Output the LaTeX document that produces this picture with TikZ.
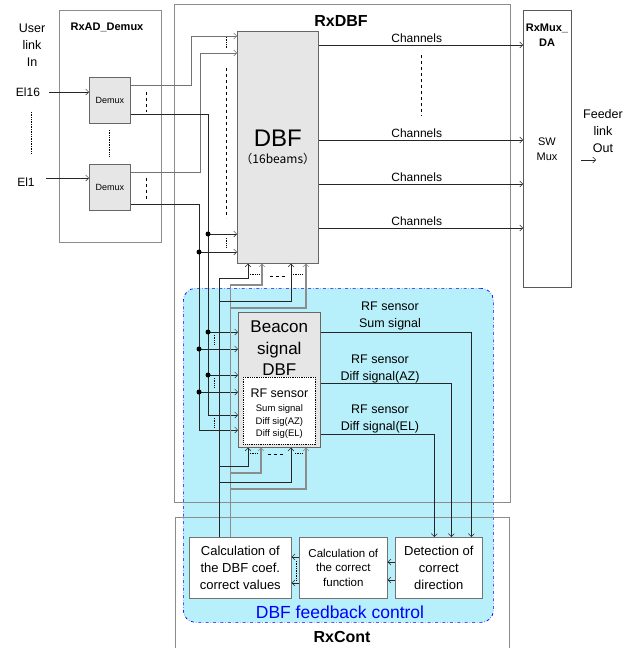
\documentclass[tikz,border=0pt]{standalone}
\usepackage{fontspec}
\setmainfont{Liberation Sans}
\newfontfamily\cjk{Noto Sans CJK JP}
\usetikzlibrary{arrows.meta,positioning}
\definecolor{fbcyan}{RGB}{183,240,250}
\definecolor{blkgray}{RGB}{230,230,230}
\newcommand{\fsz}[2]{\fontsize{#1}{#2}\selectfont}

\begin{document}
\begin{tikzpicture}[x=1pt,y=-1pt,
  frame/.style={draw=black!45,line width=0.9pt,anchor=north west,inner sep=0pt},
  blk/.style={draw=black!60,line width=0.6pt,fill=blkgray,anchor=north west,inner sep=0pt,align=center},
  calc/.style={draw=black!55,line width=0.6pt,fill=white,anchor=north west,inner sep=0pt,align=center,font=\fsz{13}{17}},
  ttl/.style={font=\bfseries\fsz{11}{15},align=center,inner sep=0pt},
  lab/.style={font=\fsz{12.5}{17},align=center,inner sep=0pt},
  wire/.style={draw=black!85,line width=0.7pt},
  arr/.style={wire,-{Straight Barb[length=3pt,width=6pt,line width=0.5pt]}},
  jdot/.style={circle,fill=black,inner sep=0pt,minimum size=5pt},
  dotl/.style={densely dotted,line width=0.7pt},
  dashl/.style={dashed,line width=0.7pt}]
\useasboundingbox (0,0) rectangle (640,648);

% feedback control area
\node[draw=blue,fill=fbcyan,dash dot,line width=0.7pt,rounded corners=12pt,anchor=north west,
  minimum width=310pt,minimum height=334pt,inner sep=0pt] (fb) at (183,288) {};
\node[font=\fsz{17.5}{20},text=blue,inner sep=0pt] (fbtxt) at (340,612) {DBF feedback control};

% units
\node[frame,minimum width=102pt,minimum height=232pt] (rxad) at (59,10) {};
\node[frame,minimum width=336pt,minimum height=498pt] (rxdbf) at (174,4) {};
\node[frame,draw=black!65,minimum width=48pt,minimum height=277pt] (mux) at (523,10) {};
\node[frame,minimum width=334pt,minimum height=131pt] (rxcont) at (175,517) {};
\node[ttl] (rxadtxt) at (107,27) {RxAD\_Demux};
\node[ttl,font=\bfseries\fsz{16}{18}] (rxdbftxt) at (341,21) {RxDBF};
\node[ttl] (muxtxt) at (547,35) {RxMux\_\\DA};
\node[ttl,font=\bfseries\fsz{16}{18}] (rxconttxt) at (342,637) {RxCont};
\node[lab,font=\fsz{11}{15}] (swmux) at (547,149) {SW\\Mux};

% inputs
\node[lab] (usr) at (32,45) {User\\link\\In};
\node[lab,font=\fsz{12}{14}] (el16) at (28,92) {El16};
\node[lab,font=\fsz{12}{14}] (el1) at (26,182) {El1};
\node[blk,font=\fsz{9}{11},minimum width=41pt,minimum height=46pt] (dmxA) at (89,77) {Demux};
\node[blk,font=\fsz{9}{11},minimum width=41pt,minimum height=46pt] (dmxB) at (89,164) {Demux};

% beam forming
\node[blk,minimum width=81pt,minimum height=232pt] (dbf) at (237,31) {{\fsz{24}{26}DBF}\\[5pt]{\cjk\fsz{12}{13}（16beams）}};
\node[blk,minimum width=82pt,minimum height=135pt] (bcn) at (238,312) {};
\node[font=\fsz{17}{21.5},align=center,anchor=north,inner sep=0pt] (bcntxt) at ([yshift=-9pt]bcn.north) {Beacon\\signal\\DBF};
\node[draw=black,densely dotted,line width=0.8pt,fill=white,anchor=north west,minimum width=72pt,minimum height=67pt,
  inner sep=0pt] (rfs) at (243,377) {};
\node[align=center,inner sep=0pt,font=\fsz{9.5}{12.5}] (rfstxt) at ([yshift=-3pt]rfs.center)
  {{\fsz{12.5}{15}RF sensor}\\[1.5pt]Sum signal\\Diff sig(AZ)\\Diff sig(EL)};

% feedback control blocks
\node[calc,minimum width=102pt,minimum height=61pt] (cdbf) at (189,537) {Calculation of\\the DBF coef.\\correct values};
\node[calc,font=\fsz{11.5}{14.5},minimum width=88pt,minimum height=61pt] (cfun) at (299,537) {Calculation of\\the correct\\function};
\node[calc,minimum width=87pt,minimum height=61pt] (cdet) at (395,537) {Detection of\\correct\\direction};

% output
\node[lab] (fdr) at (603,131) {Feeder\\link\\Out};
\coordinate (fout) at (596,160);

% connectors
\draw[arr,shorten <=9pt] (el16.east) -- (dmxA.west |- el16.east);
\draw[arr,shorten <=11pt] (el1.east |- 0,178) -- (dmxB.west |- 0,178);
\draw[arr,draw=black!55] ([yshift=15pt]dmxA.east) -| (191,36) -- (dbf.west |- 0,36);
\draw[arr,draw=black!55] ([yshift=15pt]dmxB.east) -| (200,53) -- (dbf.west |- 0,53);
\draw[arr] ([yshift=-14pt]dmxA.east) -| (208,415) -- (bcn.west |- 0,415);
\draw[arr] ([yshift=-17pt]dmxB.east) -| (199,430) -- (bcn.west |- 0,430);
\foreach \xx/\yy/\tgt in {208/234/dbf,199/252/dbf,208/332/bcn,199/349/bcn,208/375/bcn,199/392/bcn}
  \draw[arr] (\xx,\yy) node[jdot]{} -- (\tgt.west |- 0,\yy);

\draw[arr] ([xshift=-21pt]cdbf.north) |- (248,278) -- (dbf.south -| 248,0);
\draw[arr,draw=black!45,line width=1.1pt] ([xshift=-10pt]cdbf.north) |- (262,285) -- (dbf.south -| 262,0);
\foreach \yy/\xx/\tgt in {301/291/dbf,466/248/bcn,482/291/bcn}
  \draw[arr] (219,\yy) -| (\tgt.south -| \xx,0);
\foreach \yy/\xx/\tgt in {308/306/dbf,473/261/bcn,489/306/bcn}
  \draw[arr,draw=black!45,line width=1.1pt] (230,\yy) -| (\tgt.south -| \xx,0);

\draw[arr] (bcn.east |- 0,332) -| ([xshift=32.5pt]cdet.north);
\draw[arr] (bcn.east |- 0,383) -| ([xshift=12.5pt]cdet.north);
\draw[arr] (bcn.east |- 0,434) -| ([xshift=-4.5pt]cdet.north);
\node[lab] (sumlab) at (390,315.5) {RF sensor\\Sum signal};
\node[lab] (azlab) at (380,368.5) {RF sensor\\Diff signal(AZ)};
\node[lab] (ellab) at (380,418.5) {RF sensor\\Diff signal(EL)};

\foreach \yy in {45,140,184,228}
  \draw[arr] (dbf.east |- 0,\yy) -- node[lab,font=\fsz{12}{14},above=2pt,pos=0.48]{Channels} (mux.west |- 0,\yy);
\draw[arr,shorten <=9pt] (mux.east |- fout) -- (fout);

\foreach \yy in {562,580} \draw[arr] (cdet.west |- 0,\yy) -- (cfun.east |- 0,\yy);
\foreach \yy in {557,583} \draw[arr] (cfun.west |- 0,\yy) -- (cdbf.east |- 0,\yy);

% omitted-signal marks
\draw[dotl] (31,112) -- (31,153);
\draw[dotl] (109,130) -- (109,157);
\draw[dashl] (146,92) -- (146,112);
\draw[dashl] (146,178) -- (146,200);
\draw[dotl] (226,37) -- (226,48);
\draw[dashl] (226,68) -- (226,218);
\draw[dotl] (226,238) -- (226,248);
\draw[dashl] (421,55) -- (421,116);
\foreach \yy in {335,378,418} \draw[dotl] (214,\yy) -- ++(0,10);
\draw[dotl] (250,274) -- (260,274); \draw[dashl] (270,276) -- (285,276); \draw[dotl] (293,274) -- (303,274);
\draw[dotl] (250,453) -- (258,453); \draw[dashl] (268,454) -- (283,454); \draw[dotl] (295,453) -- (303,453);
\draw[dotl] (296,561) -- (296,580);
\end{tikzpicture}
\end{document}
